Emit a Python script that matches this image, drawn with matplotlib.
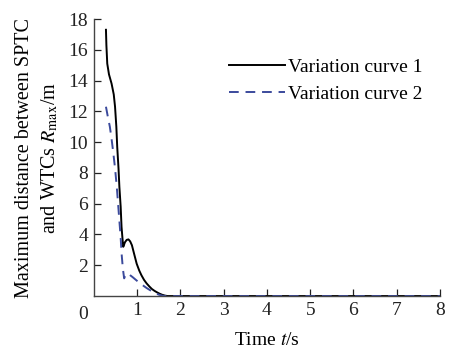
import matplotlib
matplotlib.use("Agg")
import matplotlib.pyplot as plt
import matplotlib.transforms as mtransforms

t1 = [0.28, 0.29, 0.31, 0.35, 0.41, 0.46, 0.49, 0.52, 0.54, 0.57, 0.59, 0.62, 0.64, 0.66, 0.68, 0.70, 0.72, 0.76, 0.80, 0.84, 0.88, 0.93, 0.99, 1.05, 1.10, 1.16, 1.22, 1.28, 1.34, 1.40, 1.46, 1.52, 1.58, 1.64, 1.70, 8.0]
v1 = [17.3, 16.3, 15.1, 14.4, 13.8, 13.1, 12.3, 11.0, 9.7, 8.3, 7.1, 5.8, 4.5, 3.8, 3.2, 3.35, 3.5, 3.65, 3.68, 3.55, 3.3, 2.75, 2.1, 1.65, 1.35, 1.05, 0.82, 0.63, 0.46, 0.34, 0.24, 0.15, 0.08, 0.03, 0.0, 0.0]
t2 = [0.28, 0.32, 0.37, 0.41, 0.45, 0.49, 0.53, 0.56, 0.59, 0.62, 0.64, 0.67, 0.70, 0.73, 0.76, 0.80, 0.84, 0.90, 0.95, 1.01, 1.07, 1.15, 1.22, 1.30, 1.38, 1.44, 1.50, 1.56, 1.62, 8.0]
v2 = [12.3, 11.7, 11.0, 10.2, 9.3, 8.3, 7.1, 6.0, 4.9, 3.8, 2.8, 1.8, 1.15, 1.35, 1.45, 1.45, 1.35, 1.22, 1.1, 0.96, 0.82, 0.66, 0.52, 0.38, 0.25, 0.17, 0.09, 0.04, 0.0, 0.0]

xticks = [1, 2, 3, 4, 5, 6, 7, 8]
yticks = [2, 4, 6, 8, 10, 12, 14, 16, 18]

plt.rcParams['font.family'] = ['Liberation Serif', 'DejaVu Serif']
plt.rcParams['mathtext.fontset'] = 'stix'

FS = 14
fig = plt.figure(figsize=(4.49, 3.52), dpi=100)
ax = fig.add_axes([0.209, 0.159, 0.771, 0.787])

ax.plot(t1, v1, color='black', lw=1.4, label='Variation curve 1')
ax.plot(t2, v2, color='#3b4a9c', lw=1.4, ls=(0, (5, 3.5)), label='Variation curve 2')

ax.set_xlim(0, 8)
ax.set_ylim(0, 18)
ax.set_xticks(xticks)
ax.set_yticks(yticks)
ax.tick_params(direction='in', length=5, width=0.9, labelsize=FS, colors='#222222', pad=4)
ax.spines['top'].set_visible(False)
ax.spines['right'].set_visible(False)
for s in ['left', 'bottom']:
    ax.spines[s].set_linewidth(1.0)
    ax.spines[s].set_color('#444444')

trans = mtransforms.blended_transform_factory(ax.transData, ax.transAxes)
ax.text(-0.25, -0.035, '0', transform=trans, ha='center', va='top', fontsize=FS, color='#222222')

ax.set_xlabel('Time $t$/s', fontsize=FS, labelpad=10)
ax.set_ylabel('Maximum distance between SPTC\nand WTCs $R_{\\max}$/m', fontsize=14.5, labelpad=6, linespacing=1.35)

leg = ax.legend(loc='upper right', bbox_to_anchor=(1.0, 0.92), frameon=False, fontsize=FS,
                handlelength=2.9, handletextpad=0.15, labelspacing=0.45)

fig.savefig('out.png', dpi=100)
